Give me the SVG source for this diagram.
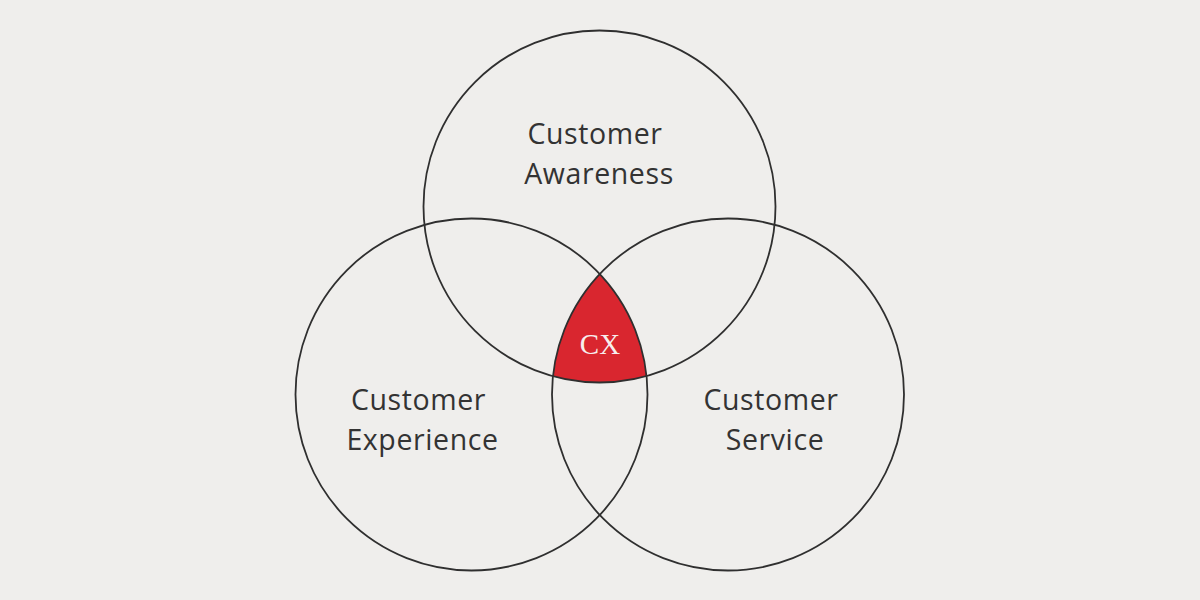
<svg xmlns="http://www.w3.org/2000/svg" width="1200" height="600" viewBox="0 0 1200 600">
<style>
.ring{fill:none;stroke:#2f2f2f;stroke-width:1.8}
.lbl{font-family:"Open Sans","Liberation Sans",sans-serif;font-size:28.5px;fill:#333333;text-anchor:middle;letter-spacing:0.6px}
.cx{font-family:"Liberation Serif","DejaVu Serif",serif;font-size:29px;fill:#f7eeee;text-anchor:middle}
</style>
<rect x="0" y="0" width="1200" height="600" fill="#efeeec"/>
<g id="cx-core">
<path d="M 599.75 274 A 176 176 0 0 0 552.95 376.2 A 176 176 0 0 0 646.5 376.1 A 176 176 0 0 0 599.75 274 Z" fill="#d9262f"/>
<text class="cx" x="600" y="353.5">CX</text>
</g>
<g id="awareness">
<circle class="ring" cx="599.5" cy="206.5" r="176"/>
<text class="lbl" x="595" y="144">Customer</text>
<text class="lbl" x="599" y="184">Awareness</text>
</g>
<g id="experience">
<circle class="ring" cx="471.5" cy="394.5" r="176"/>
<text class="lbl" x="418.5" y="410">Customer</text>
<text class="lbl" x="422.5" y="450">Experience</text>
</g>
<g id="service">
<circle class="ring" cx="728" cy="394.5" r="176"/>
<text class="lbl" x="771" y="410">Customer</text>
<text class="lbl" x="775" y="450">Service</text>
</g>
<g id="connectors"></g>
</svg>
